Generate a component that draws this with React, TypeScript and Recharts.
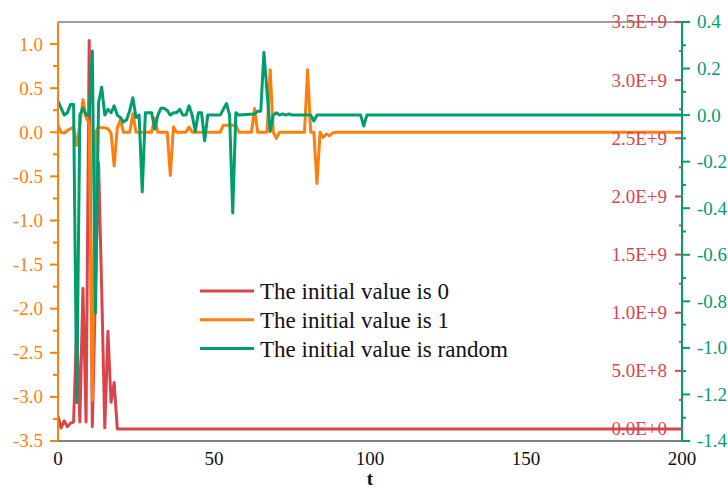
import { LineChart, Line, XAxis, YAxis, Legend, ReferenceLine } from 'recharts';

const RED = '#d8464b';
const ORANGE = '#ff7f0e';
const GREEN = '#009e6f';
const GREY = '#808080';
const FONT = '"Liberation Serif", "Times New Roman", serif';

// initial value 0 (right inner axis, scientific)
const redT = [0, 1, 2, 3, 4, 5, 6, 7, 8, 9, 10, 11, 12, 13, 14, 15, 16, 17, 18, 19, 200];
const redV = [
  0.11e9, 0.01e9, 0.07e9, 0.02e9, 0.05e9, 0.06e9, 0.9e9, 0.06e9, 1.21e9, 0.06e9, 3.34e9,
  0.02e9, 1.2e9, 2.29e9, 1.2e9, 0.01e9, 0.84e9, 0.23e9, 0.4e9, 0, 0,
];

// initial value 1 (left axis)
const orangeT = [
  0, 1, 2, 3, 4, 5, 6, 7, 8, 9, 10, 11, 12, 13, 14, 15, 16, 17, 18, 19, 20, 21, 23, 24, 25, 30,
  31, 32, 35, 36, 37, 38, 41, 42, 43, 52, 53, 57, 58, 62, 63, 64, 67, 68, 69, 70, 71, 79, 80,
  81, 82, 83, 84, 85, 86, 87, 88, 89, 200,
];
const orangeV = [
  0.08, 0.0, -0.01, 0.02, 0.04, 0.06, -0.15, 0.08, 0.37, 0.17, 0.1, -3.04, 0.0, 0.06, 0.05,
  0.05, 0.04, -0.01, -0.38, 0.05, 0.14, 0.0, 0.0, 0.21, 0.0, 0.0, 0.16, 0.0, 0.0, -0.49, 0.06,
  0.0, 0.0, 0.06, 0.0, 0.0, 0.08, 0.08, 0.0, 0.0, 0.27, 0.0, 0.0, 0.71, 0.0, -0.07, 0.0, 0.0,
  0.71, 0.0, 0.0, -0.58, 0.0, -0.06, -0.02, -0.04, -0.01, 0.0, 0.0,
];

// initial value random (right outer axis)
const greenT = [
  0, 1, 2, 3, 4, 5, 6, 7, 8, 9, 10, 11, 12, 13, 14, 15, 16, 17, 18, 19, 20, 21, 22, 23, 24, 25,
  26, 27, 28, 29, 30, 31, 32, 33, 34, 35, 36, 37, 38, 39, 40, 41, 42, 43, 44, 45, 46, 47, 48,
  52, 53, 54, 55, 56, 57, 58, 63, 64, 65, 66, 67, 68, 69, 70, 71, 72, 73, 74, 75, 81, 82, 83,
  97, 98, 99, 200,
];
const greenV = [
  0.06, 0.03, 0.0, 0.01, 0.046, 0.046, -1.235, 0.0, 0.03, 0.0, 0.0, 0.275, -0.85, 0.053, 0.12,
  0.0, 0.025, 0.01, 0.04, 0.0, -0.01, -0.03, -0.02, 0.02, 0.075, -0.01, 0.0, -0.33, 0.01, 0.01,
  0.01, -0.06, 0.0, 0.03, 0.03, 0.02, 0.0, 0.01, 0.01, 0.025, 0.0, 0.0, 0.04, 0.0, -0.07, 0.01,
  0.01, -0.11, 0.0, 0.0, 0.025, 0.05, 0.0, -0.42, 0.01, 0.0, 0.005, 0.017, 0.017, 0.27, 0.1,
  -0.07, 0.0, 0.01, 0.0, 0.005, 0.0, 0.005, 0.0, 0.0, -0.025, 0.0, 0.0, -0.047, 0.0, 0.0,
];

const xTicks = [0, 50, 100, 150, 200];
const leftMajor = [-3.5, -3.0, -2.5, -2.0, -1.5, -1.0, -0.5, 0.0, 0.5, 1.0];
const leftMinor = [-3.25, -2.75, -2.25, -1.75, -1.25, -0.75, -0.25, 0.25, 0.75];
const redMajor = [0, 5e8, 1e9, 1.5e9, 2e9, 2.5e9, 3e9, 3.5e9];
const redMinor = [2.5e8, 7.5e8, 1.25e9, 1.75e9, 2.25e9, 2.75e9, 3.25e9];
const greenMajor = [-1.4, -1.2, -1.0, -0.8, -0.6, -0.4, -0.2, 0.0, 0.2, 0.4];
const greenMinor = [-1.3, -1.1, -0.9, -0.7, -0.5, -0.3, -0.1, 0.1, 0.3];

const legendNames = ['The initial value is 0', 'The initial value is 1', 'The initial value is random'];
const legendColors = [RED, ORANGE, GREEN];

const toRows = (ts: number[], vs: number[]) => ts.map((t, i) => ({ t, v: vs[i] }));
const redData = toRows(redT, redV);
const orangeData = toRows(orangeT, orangeV);
const greenData = toRows(greenT, greenV);

const isIn = (list: number[], v: number) => list.some((m) => Math.abs(m - v) < 1e-6);
const serif = { fontFamily: FONT };

function LeftTick({ x, y, payload }: any) {
  const major = isIn(leftMajor, payload.value);
  return (
    <g>
      <line x1={x - (major ? 8 : 5)} x2={x} y1={y} y2={y} stroke={ORANGE} strokeWidth={2} />
      {major && (
        <text x={x - 15} y={y} dy="0.34em" textAnchor="end" fontSize={19} style={serif} fill={ORANGE}>
          {payload.value.toFixed(1)}
        </text>
      )}
    </g>
  );
}

function RedTick({ x, y, payload }: any) {
  const major = isIn(redMajor, payload.value);
  return (
    <g>
      <line x1={x - (major ? 7 : 3)} x2={x} y1={y} y2={y} stroke={RED} strokeWidth={2} />
      {major && (
        <text x={x - 15} y={y} dy="0.34em" textAnchor="end" fontSize={19} style={serif} fill={RED}>
          {payload.value.toExponential(1).toUpperCase()}
        </text>
      )}
    </g>
  );
}

function GreenTick({ x, y, payload }: any) {
  const major = isIn(greenMajor, payload.value);
  return (
    <g>
      <line x1={x} x2={x + (major ? 8 : 4)} y1={y} y2={y} stroke={GREEN} strokeWidth={2} />
      {major && (
        <text x={x + 15} y={y} dy="0.34em" textAnchor="start" fontSize={19} style={serif} fill={GREEN}>
          {payload.value.toFixed(1)}
        </text>
      )}
    </g>
  );
}

function BottomTick({ x, y, payload }: any) {
  return (
    <text x={x} y={y + 24} textAnchor="middle" fontSize={19} style={serif} fill="#111">
      {payload.value}
    </text>
  );
}

function LegendBox() {
  return (
    <svg width={340} height={90}>
      {legendNames.map((name, i) => (
        <g key={name}>
          <line x1={10} x2={64} y1={15 + i * 28.8} y2={15 + i * 28.8} stroke={legendColors[i]} strokeWidth={3} />
          <text x={70} y={15 + i * 28.8 + 8} fontSize={23} style={serif} fill="#111">
            {name}
          </text>
        </g>
      ))}
    </svg>
  );
}

export default function App() {
  return (
    <div style={{ position: 'absolute', left: 0, top: 0, width: 728, height: 490, background: '#fff' }}>
      <LineChart width={728} height={490} margin={{ top: 22, right: 0, bottom: 0, left: 0 }}>
        <XAxis
          dataKey="t"
          type="number"
          domain={[0, 200]}
          ticks={xTicks}
          interval={0}
          height={49}
          tickSize={0}
          tickMargin={0}
          tickLine={false}
          axisLine={{ stroke: GREY, strokeWidth: 2 }}
          tick={<BottomTick />}
          allowDataOverflow
        />
        <YAxis
          yAxisId="left"
          width={58}
          domain={[-3.5, 1.25]}
          ticks={[...leftMajor, ...leftMinor]}
          interval={0}
          tickSize={0}
          tickMargin={0}
          tickLine={false}
          axisLine={{ stroke: ORANGE, strokeWidth: 2 }}
          tick={<LeftTick />}
          allowDataOverflow
        />
        <YAxis
          yAxisId="red"
          orientation="right"
          mirror
          width={60}
          domain={[-1.03e8, 3.5e9]}
          ticks={[...redMajor, ...redMinor]}
          interval={0}
          tickSize={0}
          tickMargin={0}
          tickLine={false}
          axisLine={false}
          tick={<RedTick />}
          allowDataOverflow
        />
        <YAxis
          yAxisId="green"
          orientation="right"
          width={46}
          domain={[-1.4, 0.4]}
          ticks={[...greenMajor, ...greenMinor]}
          interval={0}
          tickSize={0}
          tickMargin={0}
          tickLine={false}
          axisLine={{ stroke: GREEN, strokeWidth: 2 }}
          tick={<GreenTick />}
          allowDataOverflow
        />
        <ReferenceLine yAxisId="left" y={1.25} stroke={GREY} strokeWidth={1.5} />
        <Line
          yAxisId="red"
          data={redData}
          dataKey="v"
          type="linear"
          stroke={RED}
          strokeWidth={3}
          strokeLinejoin="round"
          dot={false}
          isAnimationActive={false}
        />
        <Line
          yAxisId="left"
          data={orangeData}
          dataKey="v"
          type="linear"
          stroke={ORANGE}
          strokeWidth={3}
          strokeLinejoin="round"
          dot={false}
          isAnimationActive={false}
        />
        <Line
          yAxisId="green"
          data={greenData}
          dataKey="v"
          type="linear"
          stroke={GREEN}
          strokeWidth={3}
          strokeLinejoin="round"
          dot={false}
          isAnimationActive={false}
        />
        <Legend
          layout="vertical"
          align="center"
          verticalAlign="middle"
          content={<LegendBox />}
          wrapperStyle={{ left: 190, top: 276, width: 340, height: 90 }}
        />
        <text x={370} y={485} textAnchor="middle" fontSize={19} fontWeight="bold" style={serif} fill="#111">
          t
        </text>
      </LineChart>
    </div>
  );
}
